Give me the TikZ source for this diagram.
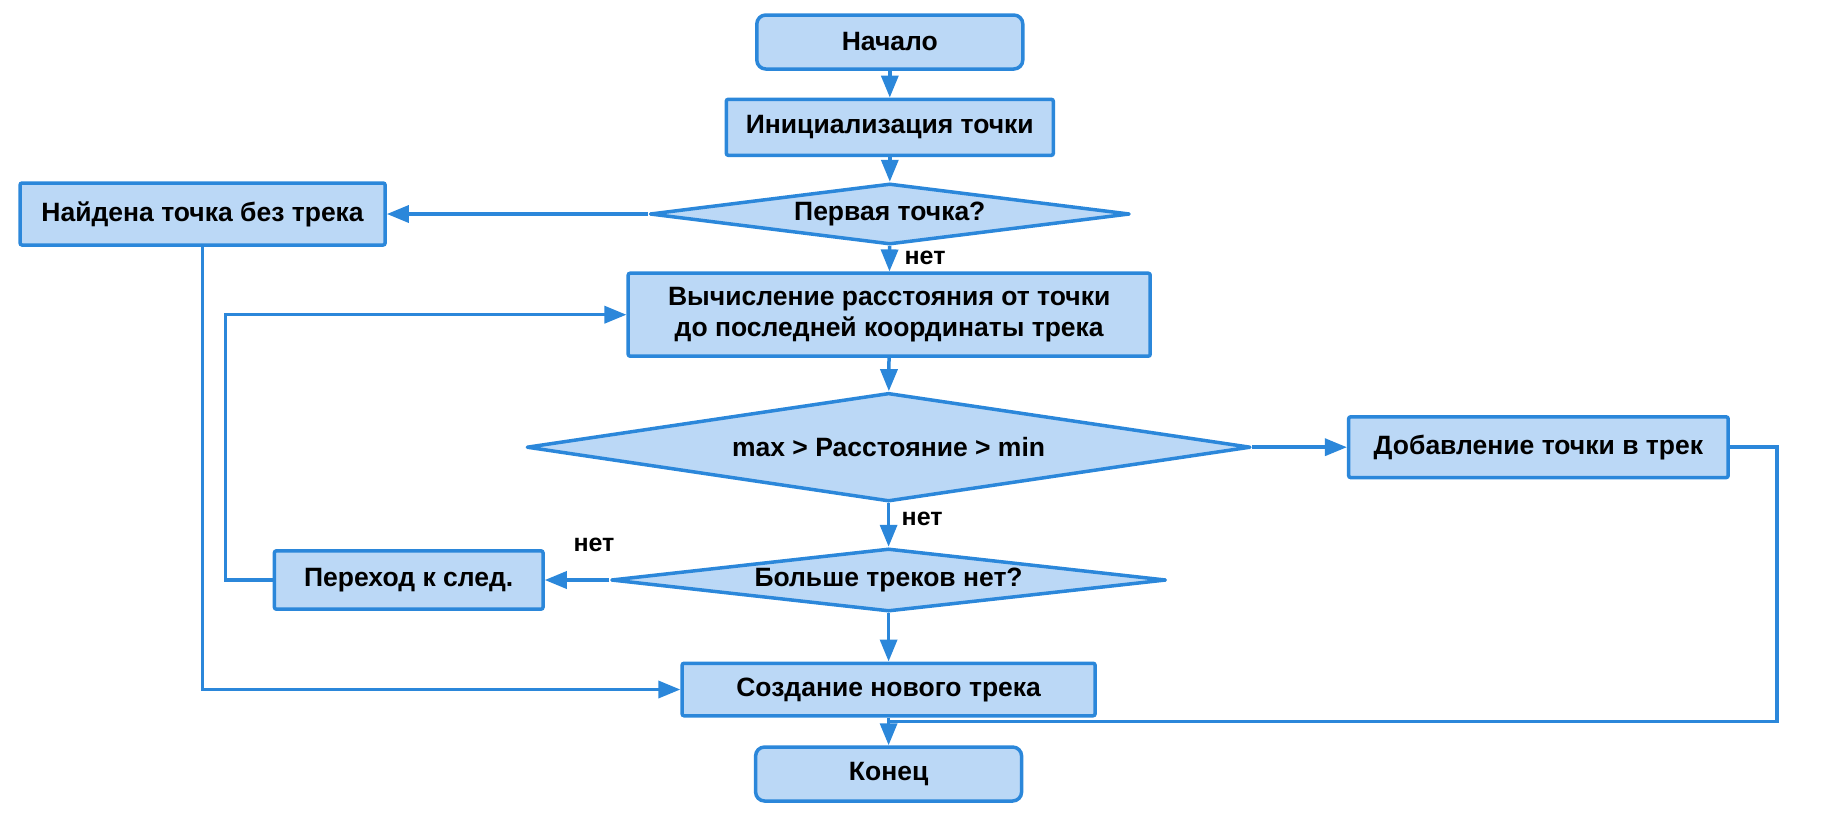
\documentclass[tikz,border=0pt]{standalone}
\usepackage{fontspec}
\setmainfont{Liberation Sans}
\usetikzlibrary{shapes.geometric,arrows.meta}
\definecolor{bord}{RGB}{43,135,218}
\definecolor{boxfill}{RGB}{187,216,246}
\begin{document}
\begin{tikzpicture}[x=1pt,y=-1pt,
  every node/.style={font=\fontsize{26.5}{31}\selectfont\bfseries},
  proc/.style={draw=bord,fill=boxfill,line width=3.5pt,rounded corners=2pt,inner sep=0pt,align=center},
  term/.style={proc,rounded corners=9pt},
  dec/.style={draw=bord,fill=boxfill,line width=3.5pt,line join=round,diamond,inner sep=0pt},
  conn/.style={draw=bord,line width=3.5pt,-{Triangle[length=22pt,width=17pt]}},
  plain/.style={draw=bord,line width=3.5pt},
  lbl/.style={font=\fontsize{25}{29}\selectfont\bfseries}]
\useasboundingbox (0,0) rectangle (1831,815);
\node[term,minimum width=266pt,minimum height=54pt] (start) at (889.8,42) {Начало};
\node[proc,minimum width=327pt,minimum height=56pt] (init) at (889.8,127.3) {Инициализация точки};
\node[dec,minimum width=480pt,minimum height=61pt,aspect=7.9] (q1) at (889.8,214) {Первая точка?};
\node[proc,minimum width=365pt,minimum height=62pt] (found) at (202.6,214) {Найдена точка без трека};
\node[proc,minimum width=522pt,minimum height=83pt] (calc) at (889.2,314.7) {Вычисление расстояния от точки\\до последней координаты трека};
\node[dec,minimum width=724pt,minimum height=108.6pt,aspect=6.7] (q2) at (888.6,447.2) {max > Расстояние > min};
\node[proc,minimum width=379.5pt,minimum height=60.7pt] (add) at (1538.4,447.2) {Добавление точки в трек};
\node[dec,minimum width=555pt,minimum height=63pt,aspect=8.8] (q3) at (888.6,580) {Больше треков нет?};
\node[proc,minimum width=268.6pt,minimum height=58.3pt] (next) at (408.7,580) {Переход к след.};
\node[proc,minimum width=413pt,minimum height=52.5pt] (create) at (888.6,689.5) {Создание нового трека};
\node[term,minimum width=266pt,minimum height=54pt] (end) at (888.6,774) {Конец};
\coordinate (loopL) at (225.4,314.7);
\coordinate (rightc) at (1777.2,721.6);
\coordinate (join) at (888.6,721.6);
\draw[conn] (start) -- (init);
\draw[conn] (init) -- (q1);
\draw[conn] (q1.west) -- (found.east);
\draw[conn] (q1) -- node[lbl,right=10pt,pos=0.45] (l1) {нет} (calc);
\draw[conn] (calc) -- (q2);
\draw[conn] (q2.east) -- (add.west);
\draw[conn] (q2) -- node[lbl,right=8pt,pos=0.35] (l2) {нет} (q3);
\draw[conn] (q3.west) -- (next.east);
\node[lbl] (l3) at (594,545) {нет};
\draw[conn] (q3) -- (create);
\draw[conn] (found.south) |- (create.west);
\draw[conn] (next.west) -| (loopL) -- (calc.west);
\draw[plain] (add.east) -| (rightc) -- (join);
\draw[conn] (create) -- (end);
\end{tikzpicture}
\end{document}
